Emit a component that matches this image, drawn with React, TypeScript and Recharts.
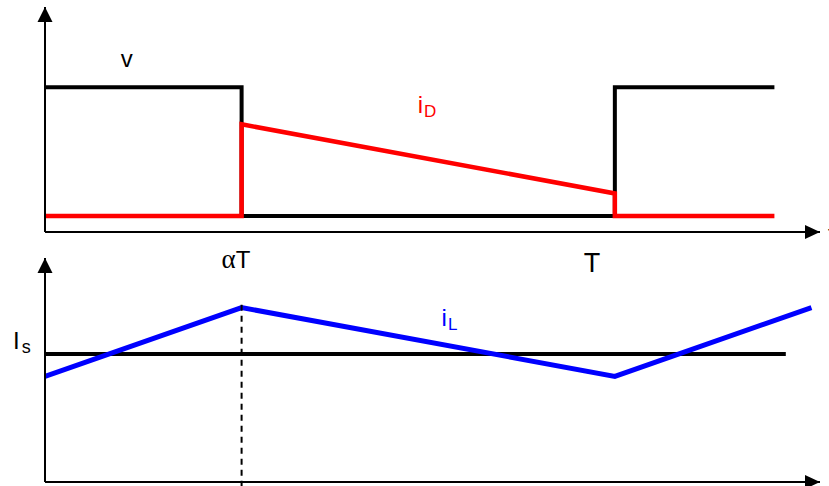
import { ComposedChart, Line, XAxis, YAxis, ReferenceLine, ReferenceDot } from "recharts"

// time in units of the switching period T
const ALPHA = 0.345
const T_MAX = 1.36
const Y_MAX = 14

// top panel: switch voltage v and diode current iD
const vData = [
  { t: 0, y: 9 },
  { t: ALPHA, y: 9 },
  { t: ALPHA, y: 1 },
  { t: 1, y: 1 },
  { t: 1, y: 9 },
  { t: 1.28, y: 9 },
]
const iDData = [
  { t: 0, y: 1 },
  { t: ALPHA, y: 1 },
  { t: ALPHA, y: 6.7 },
  { t: 1, y: 2.4 },
  { t: 1, y: 1 },
  { t: 1.28, y: 1 },
]

// bottom panel: inductor current iL around the average Is
const iLData = [
  { t: 0, y: 6.6 },
  { t: ALPHA, y: 10.9 },
  { t: 1, y: 6.6 },
  { t: 1.345, y: 10.9 },
]
const IS_LEVEL = 8
const isData = [
  { t: 0, y: IS_LEVEL },
  { t: 1.3, y: IS_LEVEL },
]

const topTicks = [ALPHA, 1]

const FONT = "'Liberation Sans', Arial, sans-serif"

const ArrowRight = (p: any) => (
  <polygon points={`${p.cx},${p.cy} ${p.cx - 15},${p.cy - 7} ${p.cx - 15},${p.cy + 7}`} fill="#000" />
)
const ArrowUp = (p: any) => (
  <polygon points={`${p.cx},${p.cy} ${p.cx - 7.5},${p.cy + 15} ${p.cx + 7.5},${p.cy + 15}`} fill="#000" />
)

// text with a subscript, anchored at the reference dot
const subLabel = (main: string, sub: string, color: string) => (p: any) => (
  <text x={p.cx} y={p.cy} fill={color} fontFamily={FONT} fontSize={24}>
    <tspan>{main}</tspan>
    <tspan dx={1} dy={4} fontSize={17}>{sub}</tspan>
  </text>
)

const plainLabel = (txt: string, dx = 0, dy = 0) => (p: any) => (
  <text x={p.cx + dx} y={p.cy + dy} fill="#000" fontFamily={FONT} fontSize={24}>
    {txt}
  </text>
)

const TimeTick = (p: any) => {
  const v = p.payload.value
  if (v === ALPHA) {
    return (
      <text x={p.x - 20} y={p.y + 36} fill="#000" fontSize={24} fontFamily={FONT}>
        <tspan fontFamily="'Liberation Serif', serif" fontSize={27}>α</tspan>
        <tspan>T</tspan>
      </text>
    )
  }
  return (
    <text x={p.x - 31} y={p.y + 40} fill="#000" fontSize={27} fontFamily={FONT}>
      T
    </text>
  )
}

const IsTick = (p: any) => (
  <text x={p.x - 32} y={p.y - 5} fill="#000" fontFamily={FONT} fontSize={24}>
    <tspan>I</tspan>
    <tspan dx={2} dy={4} fontSize={18}>s</tspan>
  </text>
)

export default function App() {
  return (
    <div style={{ position: "absolute", left: 0, top: 0, width: 829, height: 486, background: "#fff", fontFamily: FONT }}>
      <div style={{ position: "absolute", left: 0, top: 0 }}>
        <ComposedChart width={829} height={280} margin={{ top: 7, right: 9, left: 0, bottom: 0 }}>
          <XAxis
            dataKey="t"
            type="number"
            domain={[0, T_MAX]}
            allowDataOverflow
            ticks={topTicks}
            tick={<TimeTick />}
            tickLine={false}
            tickSize={0}
            tickMargin={0}
            height={48}
            axisLine={{ stroke: "#000", strokeWidth: 2 }}
          />
          <YAxis
            dataKey="y"
            type="number"
            domain={[0, Y_MAX]}
            allowDataOverflow
            width={45}
            tick={false}
            tickLine={false}
            axisLine={{ stroke: "#000", strokeWidth: 2 }}
          />
          <Line data={vData} dataKey="y" type="linear" stroke="#000" strokeWidth={4} dot={false} isAnimationActive={false} strokeLinejoin="miter" />
          <Line data={iDData} dataKey="y" type="linear" stroke="#ff0000" strokeWidth={4.5} dot={false} isAnimationActive={false} strokeLinejoin="miter" />
          <ReferenceDot x={T_MAX} y={0} r={0} ifOverflow="visible" shape={ArrowRight} />
          <ReferenceDot x={0} y={Y_MAX} r={0} ifOverflow="visible" shape={ArrowUp} />
          <ReferenceDot x={T_MAX} y={0} r={0} ifOverflow="visible" shape={plainLabel("t", 8, 10)} />
          <ReferenceDot x={0.133} y={10.27} r={0} ifOverflow="visible" shape={plainLabel("v")} />
          <ReferenceDot x={0.654} y={7.4} r={0} ifOverflow="visible" shape={subLabel("i", "D", "#ff0000")} />
        </ComposedChart>
      </div>
      <div style={{ position: "absolute", left: 0, top: 250 }}>
        <ComposedChart width={829} height={236} margin={{ top: 8, right: 9, left: 0, bottom: 0 }}>
          <XAxis
            dataKey="t"
            type="number"
            domain={[0, T_MAX]}
            allowDataOverflow
            tick={false}
            tickLine={false}
            height={4}
            axisLine={{ stroke: "#000", strokeWidth: 2 }}
          />
          <YAxis
            dataKey="y"
            type="number"
            domain={[0, Y_MAX]}
            allowDataOverflow
            width={45}
            ticks={[IS_LEVEL]}
            tick={<IsTick />}
            tickLine={false}
            tickSize={0}
            tickMargin={0}
            axisLine={{ stroke: "#000", strokeWidth: 2 }}
          />
          <Line data={isData} dataKey="y" type="linear" stroke="#000" strokeWidth={4} dot={false} isAnimationActive={false} />
          <Line data={iLData} dataKey="y" type="linear" stroke="#0000ff" strokeWidth={5} dot={false} isAnimationActive={false} />
          <ReferenceLine
            segment={[{ x: ALPHA, y: -0.3 }, { x: ALPHA, y: 11.2 }]}
            stroke="#000"
            strokeWidth={2}
            strokeDasharray="6 5"
            ifOverflow="visible"
          />
          <ReferenceDot x={T_MAX} y={0} r={0} ifOverflow="visible" shape={ArrowRight} />
          <ReferenceDot x={0} y={Y_MAX} r={0} ifOverflow="visible" shape={ArrowUp} />
          <ReferenceDot x={0.696} y={9.75} r={0} ifOverflow="visible" shape={subLabel("i", "L", "#0000ff")} />
        </ComposedChart>
      </div>
    </div>
  )
}
